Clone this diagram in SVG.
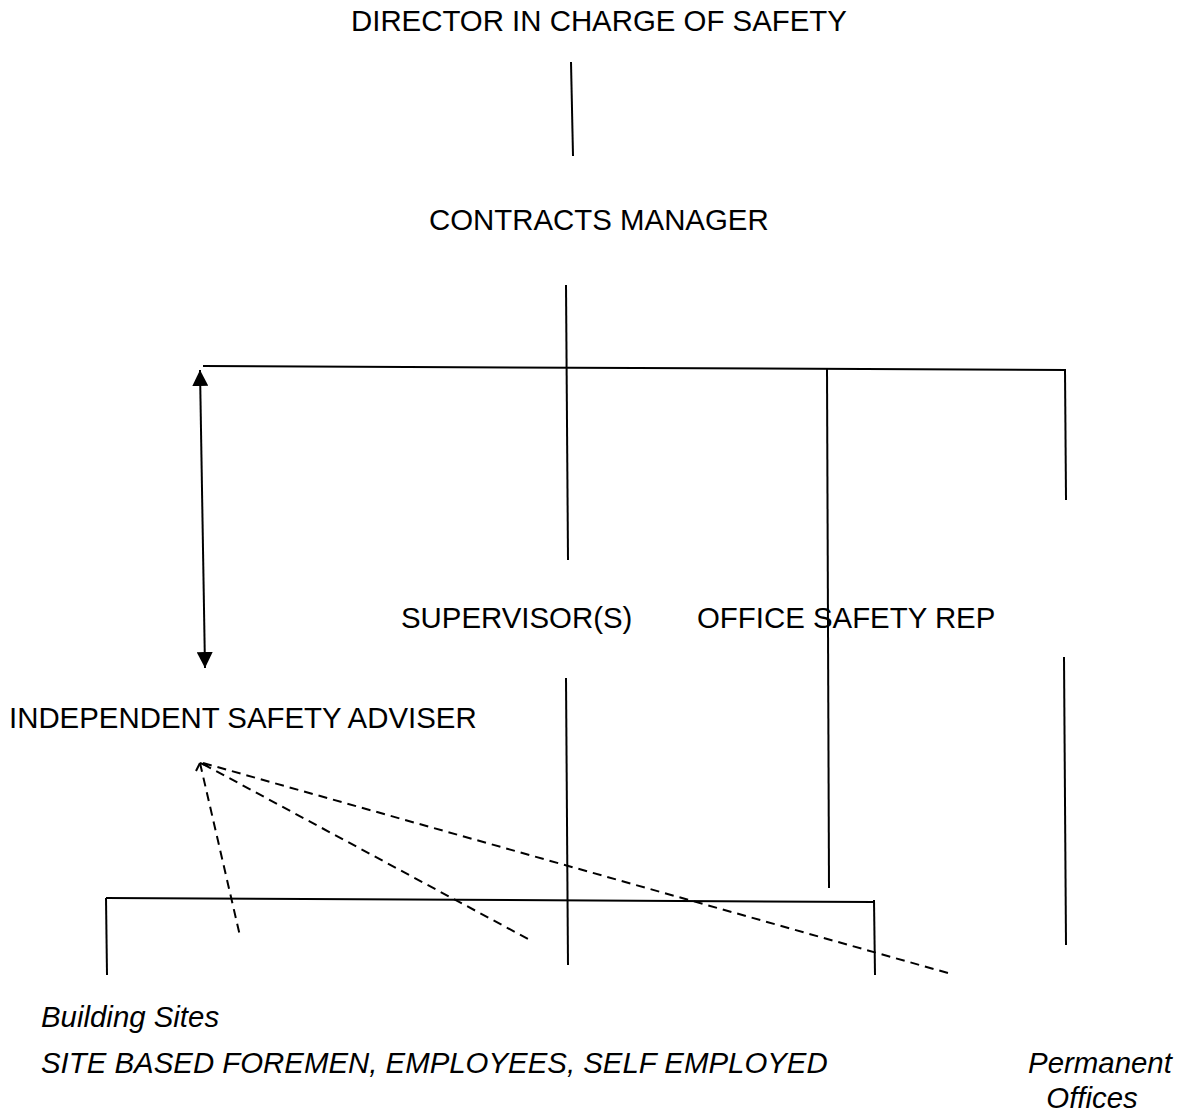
<svg xmlns="http://www.w3.org/2000/svg" width="1183" height="1115" viewBox="0 0 1183 1115">
  <style>
    .lbl { font-family: "Liberation Sans", Arial, sans-serif; font-size: 29.4px; fill: #000; }
    .it { font-style: italic; }
    .ln { stroke: #000; stroke-width: 2; fill: none; }
    .dash { stroke: #000; stroke-width: 2; fill: none; stroke-dasharray: 9 6; }
  </style>
  <defs>
    <marker id="tri" viewBox="0 0 10 10" refX="10" refY="5" markerWidth="16" markerHeight="16" orient="auto-start-reverse" markerUnits="userSpaceOnUse">
      <path d="M0,0 L10,5 L0,10 Z" fill="#000"/>
    </marker>
  </defs>
  <rect width="1183" height="1115" fill="#fff"/>

  <g id="connectors">
    <!-- director to contracts manager -->
    <line class="ln" x1="571" y1="62" x2="573" y2="156"/>
    <!-- contracts manager down to supervisors -->
    <line class="ln" x1="566" y1="285" x2="568" y2="560"/>
    <!-- upper distribution bar -->
    <line class="ln" x1="203" y1="366" x2="1066" y2="370"/>
    <line class="ln" x1="827" y1="368" x2="829" y2="888"/>
    <line class="ln" x1="1065" y1="370" x2="1066" y2="500"/>
    <line class="ln" x1="1064" y1="657" x2="1066" y2="945"/>
    <!-- two-way link to adviser -->
    <line class="ln" x1="200" y1="370" x2="205" y2="668" marker-start="url(#tri)" marker-end="url(#tri)"/>
    <!-- supervisors down to sites -->
    <line class="ln" x1="566" y1="678" x2="568" y2="965"/>
    <!-- lower distribution bar -->
    <line class="ln" x1="106" y1="898" x2="874" y2="902"/>
    <line class="ln" x1="106" y1="898" x2="107" y2="975"/>
    <line class="ln" x1="874" y1="900" x2="875" y2="975"/>
    <!-- advisory links -->
    <line class="dash" x1="200" y1="763" x2="240" y2="936"/>
    <line class="dash" x1="203" y1="764" x2="528" y2="939"/>
    <line class="dash" x1="203" y1="763" x2="948" y2="973"/>
    <path d="M200,763 L196,771 M200,763 L208,766" class="ln"/>
  </g>

  <g id="director"><text class="lbl" x="351" y="31">DIRECTOR IN CHARGE OF SAFETY</text></g>
  <g id="contracts-manager"><text class="lbl" x="429" y="230">CONTRACTS MANAGER</text></g>
  <g id="supervisors"><text class="lbl" x="401" y="628">SUPERVISOR(S)</text></g>
  <g id="office-safety-rep"><text class="lbl" x="697" y="628">OFFICE SAFETY REP</text></g>
  <g id="safety-adviser"><text class="lbl" x="9" y="728">INDEPENDENT SAFETY ADVISER</text></g>
  <g id="building-sites">
    <text class="lbl it" x="41" y="1027">Building Sites</text>
    <text class="lbl it" x="41" y="1073">SITE BASED FOREMEN, EMPLOYEES, SELF EMPLOYED</text>
  </g>
  <g id="permanent-offices">
    <text class="lbl it" x="1100" y="1073" text-anchor="middle">Permanent</text>
    <text class="lbl it" x="1092" y="1108" text-anchor="middle">Offices</text>
  </g>
</svg>
